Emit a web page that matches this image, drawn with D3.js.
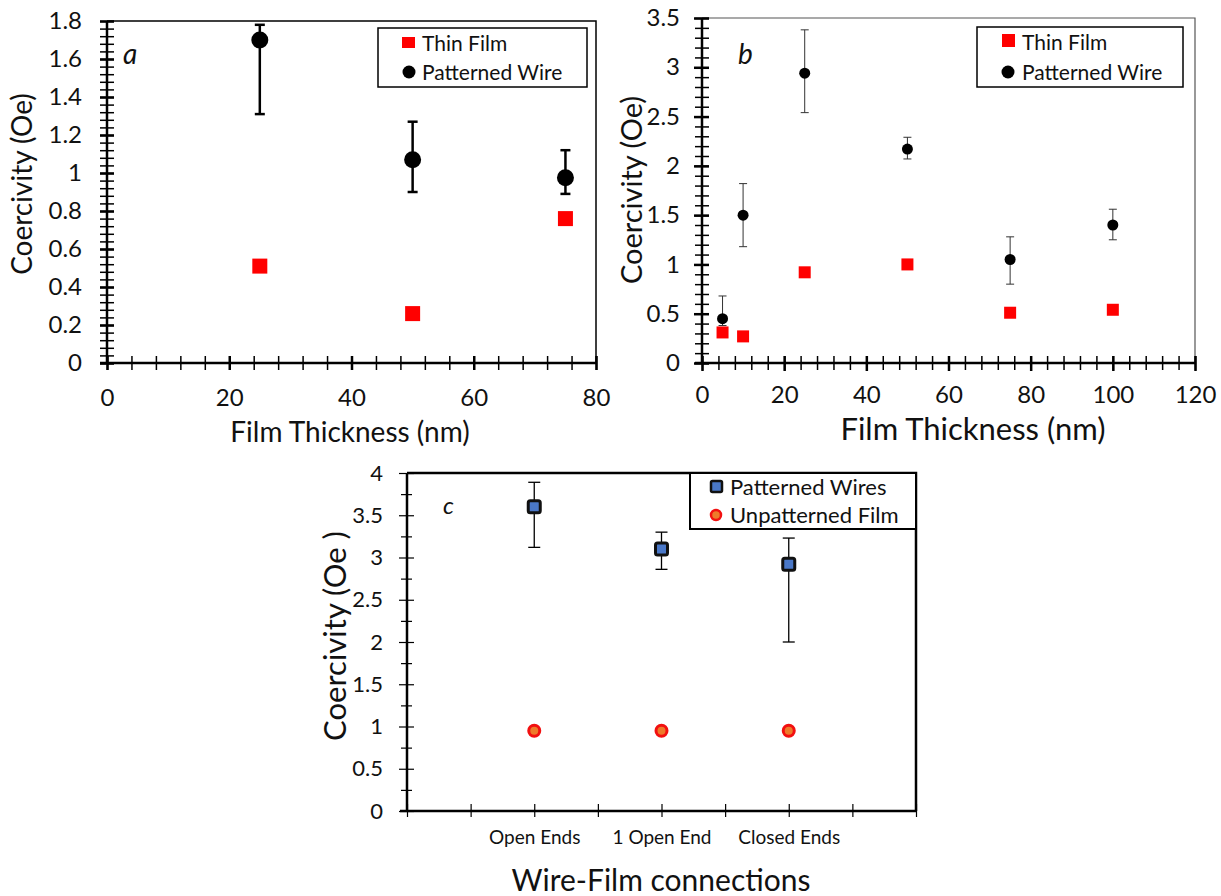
<!DOCTYPE html>
<html>
<head>
  <meta charset="utf-8">
  <title>Coercivity</title>
  <style>
  body { margin: 0; background: #fff; }
  svg text { font-family: Lato, "Open Sans", sans-serif; fill: #111; }
  .axis path, .axis line { stroke: #000; }
  </style>
</head>
<body>
<div id="chart"></div>
<script src="https://d3js.org/d3.v7.min.js"></script>
<script>
// panel a
var aThickness = [25, 50, 75];
var aThinFilm = [0.51, 0.26, 0.76];
var aWire = [1.70, 1.07, 0.975];
var aWireLow = [1.31, 0.90, 0.89];
var aWireHigh = [1.78, 1.27, 1.12];
var aXTicks = [0, 20, 40, 60, 80];
var aYTicks = [0, 0.2, 0.4, 0.6, 0.8, 1, 1.2, 1.4, 1.6, 1.8];

// panel b
var bThickness = [5, 10, 25, 50, 75, 100];
var bThinFilm = [0.31, 0.27, 0.92, 1.00, 0.51, 0.54];
var bWire = [0.45, 1.50, 2.94, 2.17, 1.05, 1.40];
var bWireLow = [0.38, 1.18, 2.54, 2.07, 0.80, 1.25];
var bWireHigh = [0.68, 1.82, 3.38, 2.29, 1.28, 1.56];
var bXTicks = [0, 20, 40, 60, 80, 100, 120];
var bYTicks = [0, 0.5, 1, 1.5, 2, 2.5, 3, 3.5];

// panel c
var cCategories = ["Open Ends", "1 Open End", "Closed Ends"];
var cWires = [3.60, 3.10, 2.92];
var cWiresLow = [3.12, 2.86, 2.00];
var cWiresHigh = [3.89, 3.30, 3.23];
var cFilm = [0.95, 0.95, 0.95];
var cYTicks = [0, 0.5, 1, 1.5, 2, 2.5, 3, 3.5, 4];

var svg = d3.select("#chart").append("svg")
  .attr("width", 1221).attr("height", 896);

function crossTicks(g, horizontal){
  // excel style ticks that cross the axis line
  g.selectAll(".tick line").attr(horizontal ? "y1" : "x1", horizontal ? -7 : 7);
  g.select(".domain").remove();
}

// ---------- panel a ----------
(function(){
  var x = d3.scaleLinear().domain([0, 80]).range([107, 596]);
  var y = d3.scaleLinear().domain([0, 1.8]).range([363, 21]);
  var g = svg.append("g");

  g.append("path").attr("d", "M107,21H596V363").attr("fill", "none").attr("stroke", "#000").attr("stroke-width", 1.5);

  // minor ticks
  g.append("g").attr("class", "axis").attr("transform", "translate(107,0)")
    .call(d3.axisLeft(y).tickValues(d3.range(0, 1.801, 0.04)).tickSize(7).tickFormat(""))
    .call(crossTicks, false).selectAll("line").attr("stroke-width", 1.5);
  g.append("g").attr("class", "axis").attr("transform", "translate(0,363)")
    .call(d3.axisBottom(x).tickValues(d3.range(0, 80.1, 4)).tickSize(7).tickFormat(""))
    .call(crossTicks, true).selectAll("line").attr("stroke-width", 1.5);

  var ya = g.append("g").attr("class", "axis").attr("transform", "translate(107,0)")
    .call(d3.axisLeft(y).tickValues(aYTicks).tickSize(7).tickPadding(18).tickFormat(d3.format("")))
    .call(crossTicks, false);
  ya.selectAll("line").attr("stroke-width", 2.5);
  ya.selectAll("text").style("font-size", "24px");
  var xa = g.append("g").attr("class", "axis").attr("transform", "translate(0,363)")
    .call(d3.axisBottom(x).tickValues(aXTicks).tickSize(7).tickPadding(19))
    .call(crossTicks, true);
  xa.selectAll("line").attr("stroke-width", 2.5);
  xa.selectAll("text").style("font-size", "24px");
  g.append("line").attr("x1", 107).attr("x2", 107).attr("y1", 21).attr("y2", 363).attr("stroke", "#000").attr("stroke-width", 2.5);
  g.append("line").attr("x1", 100).attr("x2", 596).attr("y1", 363).attr("y2", 363).attr("stroke", "#000").attr("stroke-width", 2.5);

  g.append("text").attr("x", 350).attr("y", 442).attr("text-anchor", "middle").style("font-size", "28px").text("Film Thickness (nm)");
  g.append("text").attr("transform", "translate(32,184) rotate(-90)").attr("text-anchor", "middle").style("font-size", "28px").text("Coercivity (Oe)");
  g.append("text").attr("x", 123).attr("y", 64).style("font-size", "28px").style("font-style", "italic").text("a");

  // error bars
  aThickness.forEach(function(t, i){
    g.append("line").attr("x1", x(t)).attr("x2", x(t)).attr("y1", y(aWireLow[i])).attr("y2", y(aWireHigh[i])).attr("stroke", "#000").attr("stroke-width", 2.5);
    [aWireLow[i], aWireHigh[i]].forEach(function(v){
      g.append("line").attr("x1", x(t) - 5).attr("x2", x(t) + 5).attr("y1", y(v)).attr("y2", y(v)).attr("stroke", "#000").attr("stroke-width", 2.5);
    });
  });
  g.selectAll(".wire").data(aThickness).enter().append("circle")
    .attr("cx", function(d){ return x(d); }).attr("cy", function(d, i){ return y(aWire[i]); })
    .attr("r", 8.5).attr("fill", "#000");
  g.selectAll(".film").data(aThickness).enter().append("rect")
    .attr("x", function(d){ return x(d) - 7.5; }).attr("y", function(d, i){ return y(aThinFilm[i]) - 7.5; })
    .attr("width", 15).attr("height", 15).attr("fill", "#f00");

  // legend
  g.append("rect").attr("x", 378).attr("y", 28).attr("width", 209).attr("height", 59).attr("fill", "#fff").attr("stroke", "#000").attr("stroke-width", 1.5);
  g.append("rect").attr("x", 402).attr("y", 37).attr("width", 13).attr("height", 11).attr("fill", "#f00");
  g.append("circle").attr("cx", 409).attr("cy", 72).attr("r", 6.5).attr("fill", "#000");
  g.append("text").attr("x", 422).attr("y", 51).style("font-size", "21px").text("Thin Film");
  g.append("text").attr("x", 422).attr("y", 80).style("font-size", "21px").text("Patterned Wire");
})();

// ---------- panel b ----------
(function(){
  var x = d3.scaleLinear().domain([0, 120]).range([702, 1195]);
  var y = d3.scaleLinear().domain([0, 3.5]).range([363, 18]);
  var g = svg.append("g");

  g.append("path").attr("d", "M702,18H1195V363").attr("fill", "none").attr("stroke", "#555").attr("stroke-width", 1.2);

  g.append("g").attr("class", "axis").attr("transform", "translate(702,0)")
    .call(d3.axisLeft(y).tickValues(d3.range(0, 3.501, 0.1)).tickSize(7).tickFormat(""))
    .call(crossTicks, false).selectAll("line").attr("stroke-width", 1.5);
  g.append("g").attr("class", "axis").attr("transform", "translate(0,363)")
    .call(d3.axisBottom(x).tickValues(d3.range(0, 120.1, 4)).tickSize(7).tickFormat(""))
    .call(crossTicks, true).selectAll("line").attr("stroke-width", 1.5);

  var ya = g.append("g").attr("class", "axis").attr("transform", "translate(702,0)")
    .call(d3.axisLeft(y).tickValues(bYTicks).tickSize(8).tickPadding(14).tickFormat(d3.format("")))
    .call(crossTicks, false);
  ya.selectAll("line").attr("stroke-width", 2.5);
  ya.selectAll("text").style("font-size", "24px");
  var xa = g.append("g").attr("class", "axis").attr("transform", "translate(0,363)")
    .call(d3.axisBottom(x).tickValues(bXTicks).tickSize(8).tickPadding(15))
    .call(crossTicks, true);
  xa.selectAll("line").attr("stroke-width", 2.5);
  xa.selectAll("text").style("font-size", "24px");
  g.append("line").attr("x1", 702).attr("x2", 702).attr("y1", 18).attr("y2", 363).attr("stroke", "#000").attr("stroke-width", 2.5);
  g.append("line").attr("x1", 695).attr("x2", 1195).attr("y1", 363).attr("y2", 363).attr("stroke", "#000").attr("stroke-width", 2.5);

  g.append("text").attr("x", 973).attr("y", 440).attr("text-anchor", "middle").style("font-size", "31px").text("Film Thickness (nm)");
  g.append("text").attr("transform", "translate(642,190) rotate(-90)").attr("text-anchor", "middle").style("font-size", "29px").text("Coercivity (Oe)");
  g.append("text").attr("x", 738).attr("y", 64).style("font-size", "28px").style("font-style", "italic").text("b");

  bThickness.forEach(function(t, i){
    g.append("line").attr("x1", x(t)).attr("x2", x(t)).attr("y1", y(bWireLow[i])).attr("y2", y(bWireHigh[i])).attr("stroke", "#333").attr("stroke-width", 1);
    [bWireLow[i], bWireHigh[i]].forEach(function(v){
      g.append("line").attr("x1", x(t) - 4).attr("x2", x(t) + 4).attr("y1", y(v)).attr("y2", y(v)).attr("stroke", "#333").attr("stroke-width", 1);
    });
  });
  g.selectAll(".film").data(bThickness).enter().append("rect")
    .attr("x", function(d){ return x(d) - 6; }).attr("y", function(d, i){ return y(bThinFilm[i]) - 6; })
    .attr("width", 12).attr("height", 12).attr("fill", "#f00");
  g.selectAll(".wire").data(bThickness).enter().append("circle")
    .attr("cx", function(d){ return x(d); }).attr("cy", function(d, i){ return y(bWire[i]); })
    .attr("r", 5.5).attr("fill", "#000");

  g.append("rect").attr("x", 977).attr("y", 27).attr("width", 206).attr("height", 60).attr("fill", "#fff").attr("stroke", "#000").attr("stroke-width", 1.5);
  g.append("rect").attr("x", 1002).attr("y", 34).attr("width", 13).attr("height", 13).attr("fill", "#f00");
  g.append("circle").attr("cx", 1008).attr("cy", 72).attr("r", 6.5).attr("fill", "#000");
  g.append("text").attr("x", 1022).attr("y", 50).style("font-size", "21px").text("Thin Film");
  g.append("text").attr("x", 1022).attr("y", 80).style("font-size", "21px").text("Patterned Wire");
})();

// ---------- panel c ----------
(function(){
  var x = d3.scaleLinear().domain([0, 4]).range([407, 916]);
  var y = d3.scaleLinear().domain([0, 4]).range([811, 473]);
  var g = svg.append("g");

  g.append("path").attr("d", "M407,473H916V811").attr("fill", "none").attr("stroke", "#000").attr("stroke-width", 2.5);

  g.append("g").attr("class", "axis").attr("transform", "translate(407,0)")
    .call(d3.axisLeft(y).tickValues(d3.range(0.25, 4, 0.5)).tickSize(6).tickFormat(""))
    .call(crossTicks, false).selectAll("line").attr("stroke-width", 1.2).attr("x1", 5);
  var ya = g.append("g").attr("class", "axis").attr("transform", "translate(407,0)")
    .call(d3.axisLeft(y).tickValues(cYTicks).tickSize(8).tickPadding(16).tickFormat(d3.format("")))
    .call(crossTicks, false);
  ya.selectAll("line").attr("stroke-width", 1.2);
  ya.selectAll("text").style("font-size", "22px");

  var xa = g.append("g").attr("class", "axis").attr("transform", "translate(0,811)")
    .call(d3.axisBottom(x).tickValues(d3.range(0, 4.01, 0.5)).tickSize(6).tickFormat(function(d){
      return Number.isInteger(d) && d > 0 && d <= cCategories.length ? cCategories[d - 1] : "";
    }).tickPadding(14))
    .call(crossTicks, true);
  xa.selectAll("line").attr("stroke-width", 1.2);
  xa.selectAll("text").style("font-size", "19px");
  g.append("line").attr("x1", 407).attr("x2", 407).attr("y1", 473).attr("y2", 811).attr("stroke", "#000").attr("stroke-width", 2.5);
  g.append("line").attr("x1", 400).attr("x2", 916).attr("y1", 811).attr("y2", 811).attr("stroke", "#000").attr("stroke-width", 2.5);

  g.append("text").attr("x", 661).attr("y", 891).attr("text-anchor", "middle").style("font-size", "30px").text("Wire-Film connections");
  g.append("text").attr("transform", "translate(346,636) rotate(-90)").attr("text-anchor", "middle").style("font-size", "31px").text("Coercivity (Oe )");
  g.append("text").attr("x", 443).attr("y", 514).style("font-size", "24px").style("font-style", "italic").text("c");

  cCategories.forEach(function(c, i){
    var cx = x(i + 1);
    g.append("line").attr("x1", cx).attr("x2", cx).attr("y1", y(cWiresLow[i])).attr("y2", y(cWiresHigh[i])).attr("stroke", "#000").attr("stroke-width", 1.3);
    [cWiresLow[i], cWiresHigh[i]].forEach(function(v){
      g.append("line").attr("x1", cx - 6).attr("x2", cx + 6).attr("y1", y(v)).attr("y2", y(v)).attr("stroke", "#000").attr("stroke-width", 1.3);
    });
  });
  g.selectAll(".wires").data(cWires).enter().append("rect")
    .attr("x", function(d, i){ return x(i + 1) - 6; }).attr("y", function(d){ return y(d) - 6; })
    .attr("width", 12).attr("height", 12).attr("rx", 2)
    .attr("fill", "#4a78c8").attr("stroke", "#111").attr("stroke-width", 3);
  g.selectAll(".film").data(cFilm).enter().append("circle")
    .attr("cx", function(d, i){ return x(i + 1); }).attr("cy", function(d){ return y(d); })
    .attr("r", 5.5).attr("fill", "#ee7a2a").attr("stroke", "#f21010").attr("stroke-width", 3);

  g.append("rect").attr("x", 690).attr("y", 473).attr("width", 226).attr("height", 56).attr("fill", "#fff").attr("stroke", "#000").attr("stroke-width", 2);
  g.append("rect").attr("x", 711).attr("y", 481).attr("width", 11).attr("height", 11).attr("rx", 1.5)
    .attr("fill", "#4a78c8").attr("stroke", "#111").attr("stroke-width", 2.5);
  g.append("circle").attr("cx", 716).attr("cy", 515).attr("r", 5).attr("fill", "#ee7a2a").attr("stroke", "#f21010").attr("stroke-width", 2.5);
  g.append("text").attr("x", 730).attr("y", 495).style("font-size", "22px").text("Patterned Wires");
  g.append("text").attr("x", 730).attr("y", 523).style("font-size", "22px").text("Unpatterned Film");
})();
</script>
</body>
</html>
